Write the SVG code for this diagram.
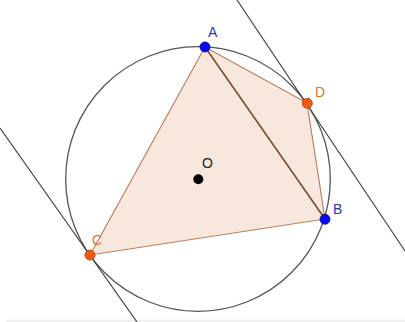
<svg xmlns="http://www.w3.org/2000/svg" width="405" height="322" viewBox="0 0 405 322">
<style>
.lbl{font-family:"Liberation Sans",Arial,sans-serif;font-size:14px}
.blue{fill:#2a36b8}
.orange{fill:#e0732e}
.tan{stroke:#444;stroke-width:1.2;fill:none}
.ptb{fill:#0a0aee;stroke:#0000a0;stroke-width:0.8}
.pto{fill:#f05a14;stroke:#a83a08;stroke-width:0.8}
</style>
<rect width="405" height="322" fill="#fff"/>
<rect x="6" y="319.5" width="399" height="3" fill="#f1f1f1"/>
<g id="circle">
<circle cx="198" cy="179" r="132.3" fill="none" stroke="#555" stroke-width="1.3"/>
</g>
<g id="quad">
<polygon points="205,47 307,103 325,219 90,255" fill="#f8e7dd" stroke="#bb8060" stroke-width="1.2" stroke-linejoin="round"/>
</g>
<g id="connectors">
<line id="AB" x1="205" y1="47" x2="325" y2="219" stroke="#7b4a2c" stroke-width="1.6"/>
<line id="tangentD" class="tan" x1="237" y1="0" x2="405" y2="251"/>
<line id="tangentC" class="tan" x1="0" y1="128" x2="137" y2="322"/>
</g>
<g id="O">
<circle cx="198.3" cy="179.3" r="5" fill="#000"/>
<text class="lbl" x="202" y="168" fill="#222">O</text>
</g>
<g id="A">
<circle class="ptb" cx="205" cy="47" r="5"/>
<text class="lbl blue" x="208" y="37">A</text>
</g>
<g id="B">
<circle class="ptb" cx="325" cy="219.3" r="5"/>
<text class="lbl blue" x="333" y="214">B</text>
</g>
<g id="C">
<circle class="pto" cx="90" cy="255" r="5"/>
<text class="lbl orange" x="92" y="245">C</text>
</g>
<g id="D">
<circle class="pto" cx="307.3" cy="103.3" r="5"/>
<text class="lbl orange" x="315" y="97">D</text>
</g>
</svg>
